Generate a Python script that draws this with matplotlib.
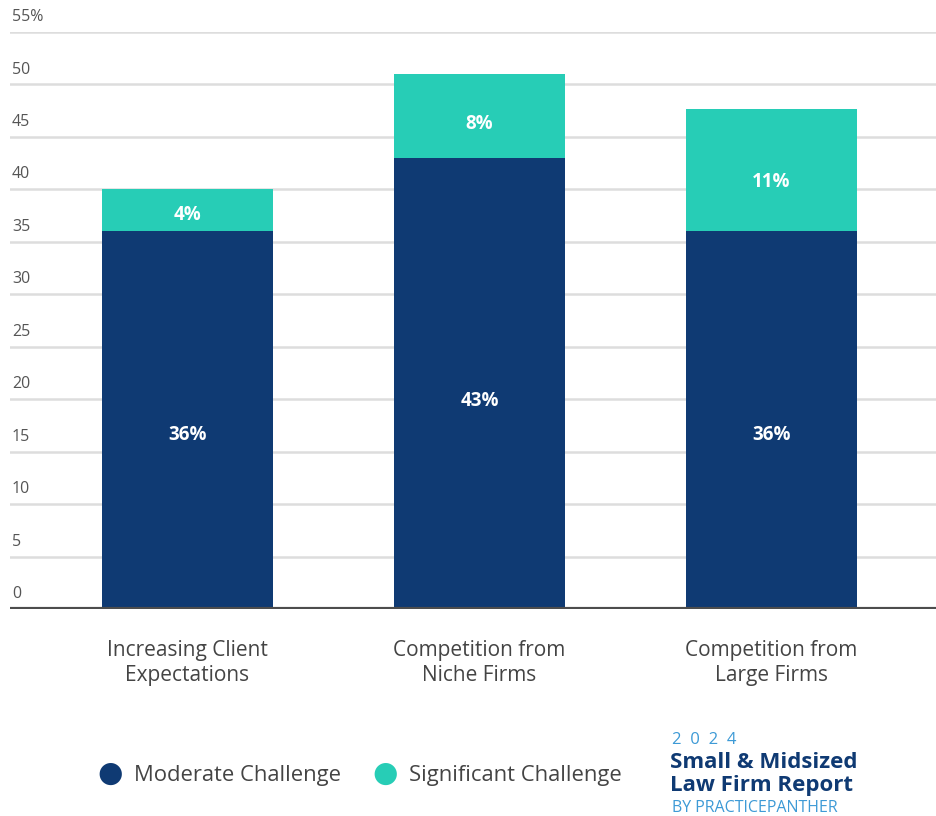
import matplotlib.pyplot as plt
import matplotlib.transforms as mtransforms

# Data
categories = ['Increasing Client\nExpectations', 'Competition from\nNiche Firms', 'Competition from\nLarge Firms']
moderate = [36, 43, 36]
significant = [4, 8, 11.7]
moderate_labels = ['36%', '43%', '36%']
significant_labels = ['4%', '8%', '11%']
y_ticks = [0, 5, 10, 15, 20, 25, 30, 35, 40, 45, 50, 55]
series_names = ['Moderate Challenge', 'Significant Challenge']

navy = '#0f3a73'
teal = '#27cdb6'
grey_text = '#555555'
logo_blue = '#3d9ad6'

plt.rcParams['font.family'] = ['Open Sans', 'DejaVu Sans']

fig = plt.figure(figsize=(9.36, 8.16), dpi=100)
ax = fig.add_axes([10/936, 1-609/816, 926/936, 577/816])

x = list(range(len(categories)))
w = 0.586
ax.bar(x, moderate, width=w, color=navy, zorder=3)
ax.bar(x, significant, width=w, bottom=moderate, color=teal, zorder=3)

for i in x:
    ax.text(i, moderate[i]*0.46, moderate_labels[i], ha='center', va='center',
            color='white', fontsize=13.5, fontweight='bold', zorder=4)
    ax.text(i, moderate[i] + significant[i]*0.4, significant_labels[i], ha='center', va='center',
            color='white', fontsize=13.5, fontweight='bold', zorder=4)

ax.set_ylim(0, 55)
ax.set_xlim(-0.608, 2.563)
for s in ax.spines.values():
    s.set_visible(False)
ax.set_xticks([])
ax.set_yticks([])

# gridlines and tick labels above them
trans = mtransforms.blended_transform_factory(ax.transAxes, ax.transData)
for t in y_ticks:
    if t == 0:
        ax.axhline(0, color='#4d4d4d', lw=3, zorder=5)
    else:
        ax.axhline(t, color='#dddddd', lw=1.8, zorder=1)
    lab = f'{t}%' if t == 55 else str(t)
    ax.annotate(lab, xy=(2/926, t), xycoords=trans, xytext=(0, 5), textcoords='offset points',
                ha='left', va='bottom', fontsize=11.5, color=grey_text)

# category labels
for i, c in enumerate(categories):
    ax.annotate(c, xy=(i, 0), xycoords='data', xytext=(0, -22), textcoords='offset points',
                ha='center', va='top', fontsize=15, color='#444444', linespacing=1.3)

# legend
fig.text(110/936, 1-774/816, '\u25cf', fontsize=21, color=navy, ha='center', va='center')
fig.text(134/936, 1-775/816, series_names[0], fontsize=15.8, color='#444444', ha='left', va='center')
fig.text(385/936, 1-774/816, '\u25cf', fontsize=21, color=teal, ha='center', va='center')
fig.text(409/936, 1-775/816, series_names[1], fontsize=15.8, color='#444444', ha='left', va='center')

# logo
fig.text(672/936, 1-740/816, '2  0  2  4', fontsize=12, color=logo_blue, ha='left', va='center')
fig.text(670/936, 1-762/816, 'Small & Midsized', fontsize=16, color=navy, fontweight='bold',
         ha='left', va='center')
fig.text(670/936, 1-786/816, 'Law Firm Report', fontsize=16, color=navy, fontweight='bold',
         ha='left', va='center')
fig.text(672/936, 1-808/816, 'BY PRACTICEPANTHER', fontsize=11.5, color=logo_blue, ha='left', va='center')

fig.savefig('out.png', dpi=100, facecolor='white')
